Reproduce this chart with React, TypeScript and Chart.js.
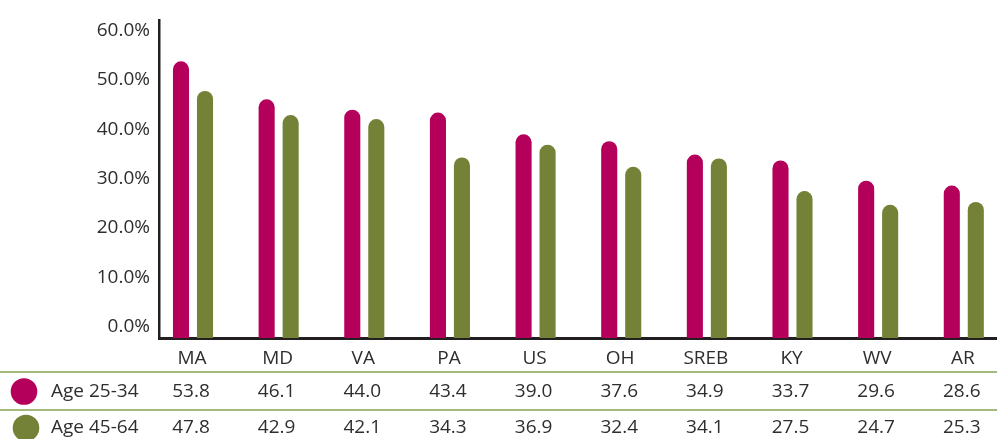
import React, { useEffect, useRef } from "react";
import { Chart, registerables } from "chart.js";

Chart.register(...registerables);

const categories = ["MA", "MD", "VA", "PA", "US", "OH", "SREB", "KY", "WV", "AR"];
const age2534 = [53.8, 46.1, 44.0, 43.4, 39.0, 37.6, 34.9, 33.7, 29.6, 28.6];
const age4564 = [47.8, 42.9, 42.1, 34.3, 36.9, 32.4, 34.1, 27.5, 24.7, 25.3];
const seriesLabels = ["Age 25-34", "Age 45-64"];
const yTicks = [0, 10, 20, 30, 40, 50, 60];

const MAGENTA = "#b4005a";
const GREEN = "#748237";
const LINE_GREEN = "#a3b97d";
const TEXT = "#2e2e2e";
const FONT = "'Open Sans', sans-serif";

const Y_MIN = -2.3;
const Y_MAX = 62.1;

const tablePlugin = {
  id: "dataTable",
  afterDraw(chart: any) {
    const ctx = chart.ctx;
    const xs = chart.scales.x;
    const W = chart.width;
    ctx.save();
    ctx.font = `19px ${FONT}`;
    ctx.fillStyle = TEXT;
    ctx.textAlign = "center";
    ctx.textBaseline = "middle";
    categories.forEach((c, i) => {
      ctx.fillText(c, xs.getPixelForValue(i) - 1, 359);
    });
    // separator lines
    ctx.strokeStyle = LINE_GREEN;
    ctx.lineWidth = 2;
    [372, 410].forEach((y) => {
      ctx.beginPath();
      ctx.moveTo(0, y);
      ctx.lineTo(W, y);
      ctx.stroke();
    });
    const rows = [
      { label: seriesLabels[0], values: age2534, color: MAGENTA, y: 391.5, cx: 24 },
      { label: seriesLabels[1], values: age4564, color: GREEN, y: 428, cx: 26 },
    ];
    rows.forEach((r) => {
      ctx.fillStyle = r.color;
      ctx.beginPath();
      ctx.arc(r.cx, r.y, 13.3, 0, Math.PI * 2);
      ctx.fill();
      ctx.fillStyle = TEXT;
      ctx.textAlign = "left";
      ctx.fillText(r.label, 51, r.y);
      ctx.textAlign = "center";
      r.values.forEach((v, i) => {
        ctx.fillText(v.toFixed(1), xs.getPixelForValue(i) - 2, r.y);
      });
    });
    ctx.restore();
  },
};

export default function App() {
  const ref = useRef<HTMLCanvasElement>(null);
  useEffect(() => {
    if (!ref.current) return;
    const chart = new Chart(ref.current, {
      type: "bar",
      data: {
        datasets: [
          {
            label: seriesLabels[0],
            data: categories.map((_, i) => ({ x: i, y: age2534[i] })),
            backgroundColor: MAGENTA,
            borderRadius: 8,
            borderSkipped: "start",
            base: Y_MIN,
            categoryPercentage: 0.5605,
            barPercentage: 0.67,
          } as any,
          {
            label: seriesLabels[1],
            data: categories.map((_, i) => ({ x: i, y: age4564[i] })),
            backgroundColor: GREEN,
            borderRadius: 8,
            borderSkipped: "start",
            base: Y_MIN,
            categoryPercentage: 0.5605,
            barPercentage: 0.67,
          } as any,
        ],
      },
      options: {
        responsive: false,
        animation: false,
        layout: { padding: { top: 16, bottom: 101, left: 0, right: 1 } },
        plugins: { legend: { display: false }, tooltip: { enabled: false } },
        scales: {
          x: {
            type: "linear",
            offset: false,
            min: -0.397,
            max: 9.376,
            grid: { display: false, drawTicks: false, offset: false },
            ticks: { display: false },
            border: { display: true, color: "#231f20", width: 3 },
            afterFit: (s: any) => {
              s.height = 0;
            },
          },
          y: {
            min: Y_MIN,
            max: Y_MAX,
            grid: { display: false, drawTicks: false },
            border: { display: true, color: "#231f20", width: 2.5 },
            afterBuildTicks: (s: any) => {
              s.ticks = yTicks.map((v) => ({ value: v }));
            },
            ticks: {
              padding: 9,
              color: TEXT,
              font: { family: FONT, size: 19 },
              callback: (v: any) => Number(v).toFixed(1) + "%",
            },
            afterFit: (s: any) => {
              s.width = 159;
            },
          },
        },
      },
      plugins: [tablePlugin],
    });
    return () => chart.destroy();
  }, []);
  return (
    <div style={{ position: "absolute", left: 0, top: 0, width: 997, height: 439, background: "#fff" }}>
      <canvas ref={ref} width={997} height={439} style={{ width: 997, height: 439, display: "block" }} />
    </div>
  );
}
